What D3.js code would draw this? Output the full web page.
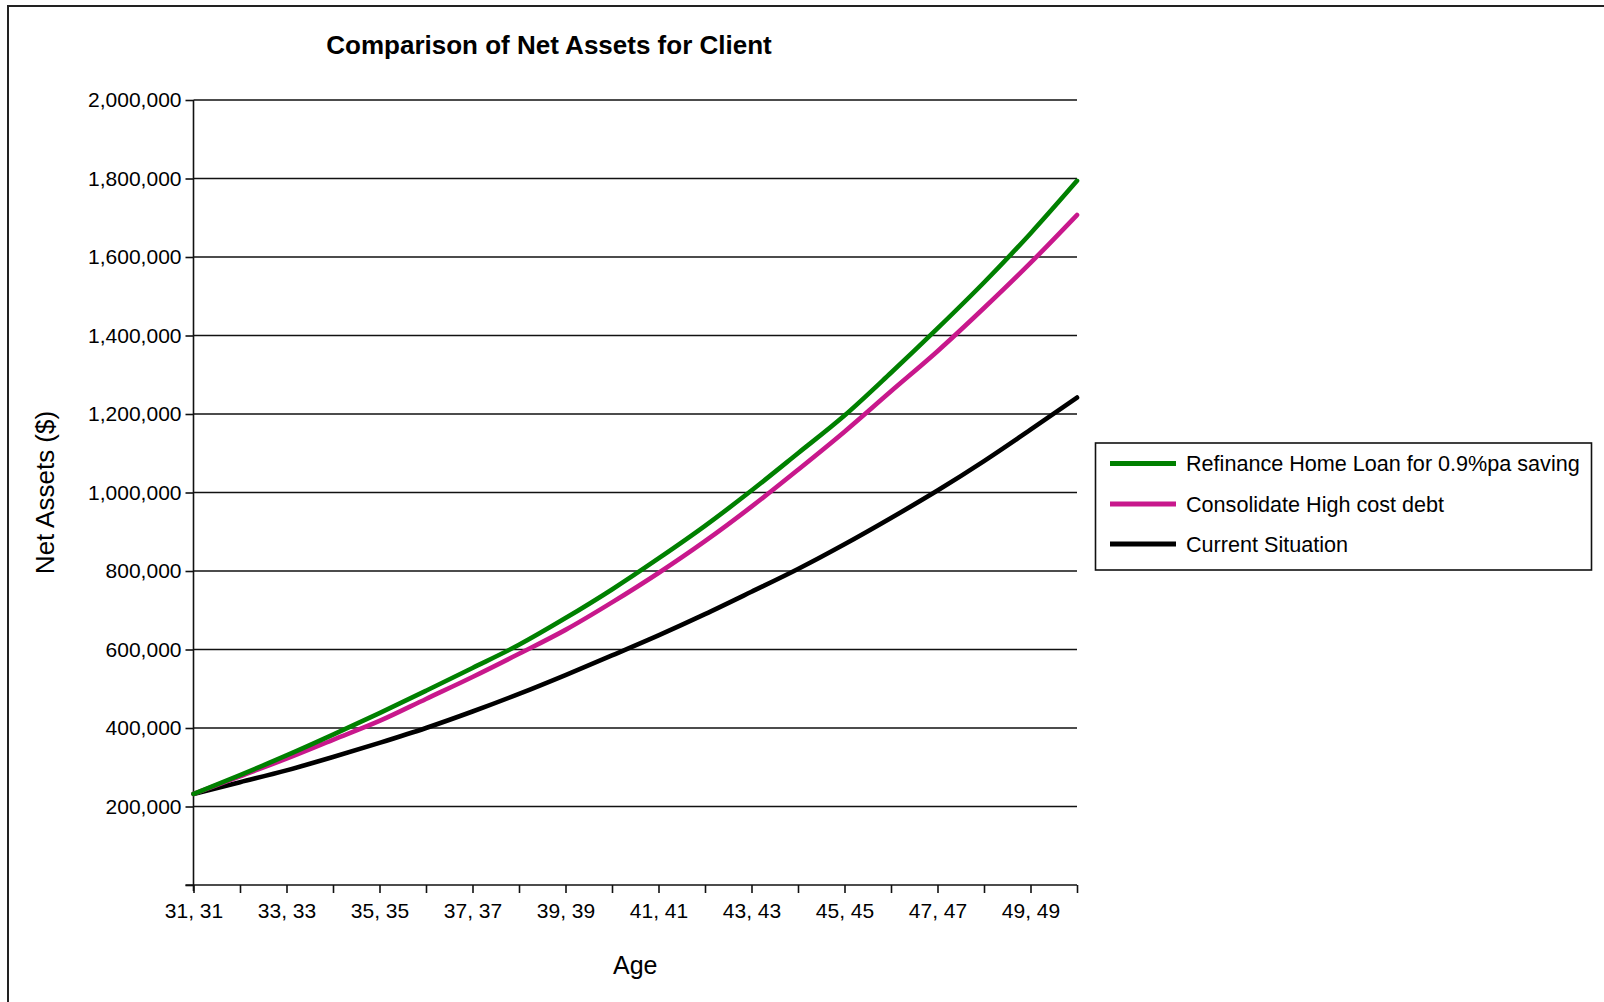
<!DOCTYPE html>
<html>
<head>
<meta charset="utf-8">
<script src="https://cdn.jsdelivr.net/npm/d3@7/dist/d3.min.js"></script>
<style>
  html, body { margin: 0; padding: 0; background: #fff; }
  svg { display: block; }
  text { font-family: "Liberation Sans", Arial, sans-serif; fill: #000; }
</style>
</head>
<body>
<svg id="chart" width="1604" height="1002"></svg>
<script>
// ---- Data ----
const ages = [31, 32, 33, 34, 35, 36, 37, 38, 39, 40, 41, 42, 43, 44, 45, 46, 47, 48, 49, 50];
const xTickLabels = ["31, 31", "33, 33", "35, 35", "37, 37", "39, 39", "41, 41", "43, 43", "45, 45", "47, 47", "49, 49"];
const xLabelAges = [31, 33, 35, 37, 39, 41, 43, 45, 47, 49];
const yTicks = [200000, 400000, 600000, 800000, 1000000, 1200000, 1400000, 1600000, 1800000, 2000000];

const seriesNames = ["Refinance Home Loan for 0.9%pa saving", "Consolidate High cost debt", "Current Situation"];
const refinance = [232000, 280000, 330000, 383000, 438000, 495000, 553000, 612000, 680000, 753000, 832000, 915000, 1005000, 1100000, 1196000, 1305000, 1418000, 1535000, 1660000, 1794000];
const consolidate = [232000, 277000, 322000, 370000, 418000, 474000, 530000, 589000, 650000, 720000, 795000, 876000, 964000, 1058000, 1155000, 1258000, 1360000, 1470000, 1585000, 1707000];
const current = [232000, 262000, 292000, 326000, 362000, 400000, 442000, 487000, 535000, 585000, 636000, 690000, 747000, 805000, 868000, 935000, 1005000, 1080000, 1160000, 1242000];
const seriesColors = ["#008000", "#c8188c", "#000000"];

// ---- Layout ----
const svg = d3.select("#chart");
const plot = { left: 193.5, right: 1077, top: 100, bottom: 885 };

svg.append("rect").attr("x", 0).attr("y", 0).attr("width", 1604).attr("height", 1002).attr("fill", "#fff");
// outer frame (continues past right and bottom edges)
svg.append("rect").attr("x", 8).attr("y", 6).attr("width", 1700).attr("height", 1100)
  .attr("fill", "none").attr("stroke", "#222").attr("stroke-width", 2);

const x = d3.scaleLinear().domain([31, 50]).range([plot.left, plot.right]);
const y = d3.scaleLinear().domain([0, 2000000]).range([plot.bottom, plot.top]);

// gridlines
svg.append("g").selectAll("line").data(yTicks).join("line")
  .attr("x1", plot.left).attr("x2", plot.right)
  .attr("y1", d => y(d)).attr("y2", d => y(d))
  .attr("stroke", "#111").attr("stroke-width", 1.6);

// y axis
const yAxis = d3.axisLeft(y).tickValues([0].concat(yTicks)).tickSize(8).tickPadding(4)
  .tickFormat(d => d === 0 ? "" : d3.format(",")(d));
const gy = svg.append("g").attr("transform", `translate(${plot.left},0)`).call(yAxis);
gy.select(".domain").attr("stroke", "#111").attr("stroke-width", 1.6).attr("d", `M0,${plot.top}V${plot.bottom + 6}`);
gy.selectAll(".tick line").attr("stroke", "#111").attr("stroke-width", 1.6);
gy.selectAll(".tick text").attr("font-size", 21).attr("font-family", "Liberation Sans, Arial, sans-serif").attr("fill", "#000");

// x axis
const xAxis = d3.axisBottom(x).tickValues(ages).tickSize(8).tickPadding(10)
  .tickFormat(d => { const i = xLabelAges.indexOf(d); return i >= 0 ? xTickLabels[i] : ""; });
const gx = svg.append("g").attr("transform", `translate(0,${plot.bottom})`).call(xAxis);
gx.select(".domain").attr("stroke", "#111").attr("stroke-width", 1.6).attr("d", `M${plot.left - 8},0H${plot.right}`);
gx.selectAll(".tick line").attr("stroke", "#111").attr("stroke-width", 1.6);
gx.selectAll(".tick text").attr("font-size", 21).attr("font-family", "Liberation Sans, Arial, sans-serif").attr("fill", "#000");

// lines
const allSeries = [refinance, consolidate, current];
const line = d3.line().x((d, i) => x(ages[i])).y(d => y(d)).curve(d3.curveMonotoneX);
// draw in order: current, consolidate, refinance (refinance on top)
[2, 1, 0].forEach(k => {
  svg.append("path").datum(allSeries[k]).attr("d", line)
    .attr("fill", "none").attr("stroke", seriesColors[k]).attr("stroke-width", 4.6)
    .attr("stroke-linejoin", "round").attr("stroke-linecap", "round");
});

// title
svg.append("text").attr("x", 549).attr("y", 54).attr("text-anchor", "middle")
  .attr("font-size", 26).attr("font-weight", "bold").text("Comparison of Net Assets for Client");

// axis titles
svg.append("text").attr("x", (plot.left + plot.right) / 2).attr("y", 974).attr("text-anchor", "middle")
  .attr("font-size", 25).text("Age");
svg.append("text").attr("transform", `translate(54,${(plot.top + plot.bottom) / 2}) rotate(-90)`)
  .attr("text-anchor", "middle").attr("font-size", 26).text("Net Assets ($)");

// legend
const lg = svg.append("g");
lg.append("rect").attr("x", 1095.5).attr("y", 443).attr("width", 496).attr("height", 127)
  .attr("fill", "#fff").attr("stroke", "#111").attr("stroke-width", 1.6);
const rowY = [463.5, 504, 544];
seriesNames.forEach((name, i) => {
  lg.append("line").attr("x1", 1110).attr("x2", 1176).attr("y1", rowY[i]).attr("y2", rowY[i])
    .attr("stroke", seriesColors[i]).attr("stroke-width", 5);
  lg.append("text").attr("x", 1186).attr("y", rowY[i]).attr("dy", "0.35em")
    .attr("font-size", 21.6).text(name);
});
</script>
</body>
</html>
